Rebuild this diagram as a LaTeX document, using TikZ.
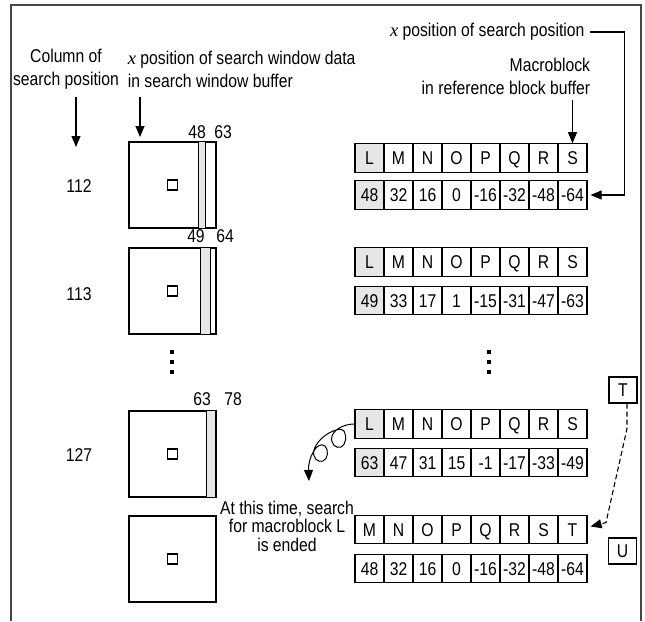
\documentclass[tikz,border=0pt]{standalone}
\usepackage{fontspec}
\setmainfont{Liberation Sans}[FakeStretch=0.85]
\newfontfamily\xfont{Liberation Serif}
\usetikzlibrary{arrows.meta,positioning}
\definecolor{bufgray}{RGB}{230,230,230}
\definecolor{framegray}{RGB}{70,70,70}
\newcommand{\xv}{{\xfont\itshape x}}
\newcommand{\cellrow}[4]{%
  \foreach \lab [count=\i] in {#3} {%
    \ifnum\i=1 \def\cf{#4}\else\def\cf{white}\fi
    \node[cell, fill=\cf] (#1\i) at (340.5+29*\i,#2) {\lab};
  }}

\begin{document}
\begin{tikzpicture}[x=1pt,y=-1pt, line width=1.1pt,
    every node/.style={font=\fontsize{18.5}{23}\selectfont},
    cell/.style={draw, minimum width=29pt, minimum height=28.5pt, inner sep=0pt,
                 text height=13.2pt, text depth=0pt},
    win/.style={draw, minimum width=87pt, minimum height=86pt, inner sep=0pt},
    pixel/.style={draw, minimum size=10pt, inner sep=0pt},
    dotmark/.style={fill, minimum size=4pt, inner sep=0pt},
    pointer/.style={-{Triangle[length=11pt,width=9pt]}}]
  \useasboundingbox (0,0) rectangle (645,621);
  \draw[framegray, line width=1.5pt] (11,621) -- (11,5) -- (641,5) -- (641,621);

  % headings
  \node[align=center] (colhead) at (66,69.5) {Column of\\search position};
  \node[align=left, anchor=west] (winhead) at (124,69.5) {\xv{} position of search window data\\in search window buffer};
  \node[align=right, anchor=east] (mbhead) at (594,76.5) {Macroblock\\in reference block buffer};
  \node[anchor=east, inner sep=0pt] (xhead) at (585,32) {\xv{} position of search position};
  \coordinate (coltop) at (76,97);
  \coordinate (colend) at (76,147);
  \coordinate (wintop) at (140,97);
  \coordinate (winend) at (140,137);
  \draw[pointer] (coltop) -- (colend);
  \draw[pointer] (wintop) -- (winend);

  % search window buffer
  \node[win] (win1) at (172.5,185) {};
  \node[win] (win2) at (172.5,291) {};
  \node[win] (win3) at (172.5,454) {};
  \node[win] (win4) at (172.5,559) {};
  \draw[fill=bufgray] ([xshift=70pt]win1.north west) rectangle ([xshift=77pt]win1.south west);
  \draw[fill=bufgray] ([xshift=72pt]win2.north west) rectangle ([xshift=82pt]win2.south west);
  \draw[fill=bufgray] ([xshift=78pt]win3.north west) rectangle ([xshift=87pt]win3.south west);
  \foreach \k in {1,...,4}
    \node[pixel] (px\k) at (win\k) {};
  \node (lo1) at (197,132) {48};
  \node (hi1) at (223,132) {63};
  \node (lo2) at (196,236) {49};
  \node (hi2) at (225,236) {64};
  \node (lo3) at (202,399) {63};
  \node (hi3) at (233,399) {78};
  \node (pos1) at (79,186) {112};
  \node (pos2) at (79,294) {113};
  \node (pos3) at (79,455) {127};
  \foreach \yy in {352,362,372} {
    \node[dotmark] (ldot\yy) at (172,\yy) {};
    \node[dotmark] (rdot\yy) at (489,\yy) {};
  }

  % reference block buffer
  \cellrow{la}{158}{L,M,N,O,P,Q,R,S}{bufgray}
  \cellrow{na}{195}{48,32,16,0,-16,-32,-48,-64}{bufgray}
  \cellrow{lb}{262}{L,M,N,O,P,Q,R,S}{bufgray}
  \cellrow{nb}{300.5}{49,33,17,1,-15,-31,-47,-63}{bufgray}
  \cellrow{lc}{424}{L,M,N,O,P,Q,R,S}{bufgray}
  \cellrow{nc}{462.5}{63,47,31,15,-1,-17,-33,-49}{bufgray}
  \cellrow{ld}{529.5}{M,N,O,P,Q,R,S,T}{white}
  \cellrow{nd}{568.5}{48,32,16,0,-16,-32,-48,-64}{white}
  \draw[pointer] ([yshift=43pt]la8.north) -- (la8.north);
  \draw[pointer] ([xshift=5pt]xhead.east) -| ([xshift=37pt]na8.east) -- ([xshift=3pt]na8.east);

  % next macroblock
  \node[draw, minimum width=28pt, minimum height=26pt, inner sep=0pt] (blkT) at (623,390) {T};
  \node[draw, minimum width=28pt, minimum height=26pt, inner sep=0pt] (blkU) at (622.5,551) {U};
  \draw[pointer, dash pattern=on 5pt off 3pt] ([xshift=4pt]blkT.south) -- ++(0,25) -- ++(-21,94) -- ([xshift=3pt,yshift=3pt]ld8.east);

  % end of search for L
  \coordinate (loopend) at (309,481);
  \draw[pointer, line width=1pt] (lc1.west) .. controls (346,424) and (335,428) .. (332,436)
    .. controls (330,444) and (336,449) .. (341,447)
    .. controls (346,445) and (347,436) .. (344,431)
    .. controls (340,425) and (318,436) .. (314,450)
    .. controls (312,458) and (318,463) .. (323,461)
    .. controls (328,459) and (329,450) .. (325,446)
    .. controls (317,440) and (308,458) .. (loopend);
  \node[align=center, font=\fontsize{18.5}{18.5}\selectfont] (endnote) at (287,526) {At this time, search\\for macroblock L\\is ended};
\end{tikzpicture}
\end{document}
